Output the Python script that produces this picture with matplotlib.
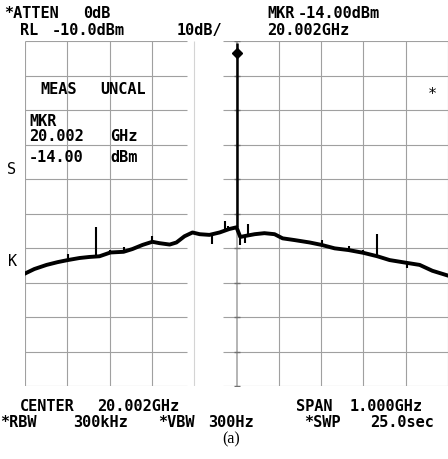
import matplotlib.pyplot as plt
import numpy as np

# trace: offset from centre (MHz) and level (dBm)
freq_mhz = [-500, -478, -449, -423, -399, -371, -348, -324, -298, -267,
            -246, -222, -199, -182, -158, -142, -123, -104, -87, -64,
            -40, -17, 0, 9, 21, 43, 66, 90, 109, 137,
            173, 201, 232, 265, 300, 333, 362, 402, 433, 463, 500]
level_dbm = [-77.4, -76.1, -74.9, -74.1, -73.5, -72.9, -72.6, -72.4, -71.3, -71.1,
             -70.3, -69.1, -68.2, -68.6, -69.0, -68.4, -66.6, -65.5, -66.0, -66.2,
             -65.5, -64.5, -64.0, -66.8, -66.5, -66.0, -65.7, -66.0, -67.2, -67.7,
             -68.4, -69.1, -70.1, -70.6, -71.4, -72.4, -73.5, -74.3, -74.9, -76.6, -78.0]

# spurs / glitches on the trace (offset MHz, tip level dBm)
spur_mhz = [-399, -333, -298, -267, -199, -57, -28, -20, 9, 21, 28, 201, 265, 300, 333, 402]
spur_dbm = [-71.7, -63.8, -70.5, -69.8, -66.6, -68.8, -62.1, -63.5, -69.0, -68.5,
            -63.0, -67.7, -69.3, -70.5, -65.9, -75.8]

carrier_mhz = 0
carrier_top = -10.5
marker_dbm = -13.6

ref_level = -10
db_per_div = 10

W, H = 448, 460
fig = plt.figure(figsize=(W / 100, H / 100), dpi=100, facecolor='white')
ax = fig.add_axes([25 / W, (H - 387) / H, 423 / W, 345 / H])
ax.set_xlim(-500, 500)
ax.set_ylim(ref_level - 10 * db_per_div, ref_level)
ax.axis('off')

# graticule, with the faded band left of centre like the photo
grid_c = '#a0a0a0'
levels = np.arange(ref_level - 10 * db_per_div, ref_level + 1, db_per_div)
ax.hlines(levels, -500, -116, color=grid_c, lw=0.8)
ax.hlines(levels, -31, 500, color=grid_c, lw=0.8)
for xv in range(-500, 501, 100):
    ax.vlines(xv, levels[0], levels[-1], color='#d4d4d4' if xv == -100 else grid_c,
              lw=0.8 if xv != 0 else 1.1)
ax.plot(np.zeros(len(levels)), levels, '_', color='#707070', ms=4, mew=1.0)

# trace
ax.plot(freq_mhz, level_dbm, color='black', lw=2.8, solid_joinstyle='round')
base = np.interp(spur_mhz, freq_mhz, level_dbm)
ax.vlines(spur_mhz, base, spur_dbm, color='black', lw=1.5)
ax.vlines(carrier_mhz, np.interp(carrier_mhz, freq_mhz, level_dbm), carrier_top,
          color='black', lw=1.8)
ax.plot(carrier_mhz, marker_dbm, 'D', color='black', ms=5)


def txt(x, y, s, **kw):
    kw.setdefault('fontsize', 11)
    kw.setdefault('family', 'DejaVu Sans Mono')
    kw.setdefault('weight', 'bold')
    fig.text(x / W, 1 - y / H, s, va='center', color='black', **kw)


txt(4, 13, '*ATTEN')
txt(83, 13, '0dB')
txt(267, 13, 'MKR')
txt(298, 13, '-14.00dBm')
txt(20, 31, 'RL')
txt(52, 31, '-10.0dBm')
txt(177, 31, '10dB/')
txt(267, 31, '20.002GHz')

txt(40, 90, 'MEAS')
txt(100, 90, 'UNCAL')
txt(29, 122, 'MKR')
txt(29, 137, '20.002')
txt(110, 137, 'GHz')
txt(29, 158, '-14.00')
txt(110, 158, 'dBm')
txt(7, 170, 'S', weight='normal')
txt(8, 262, 'K', weight='normal')
txt(428, 94, '*', weight='normal')

txt(20, 407, 'CENTER')
txt(97, 407, '20.002GHz')
txt(296, 407, 'SPAN')
txt(350, 407, '1.000GHz')
txt(0, 423, '*RBW')
txt(73, 423, '300kHz')
txt(158, 423, '*VBW')
txt(208, 423, '300Hz')
txt(304, 423, '*SWP')
txt(370, 423, '25.0sec')
txt(231, 439, '(a)', ha='center', family='Liberation Serif', fontsize=11.5,
    weight='normal')

fig.savefig('out.png', dpi=100, facecolor='white')
